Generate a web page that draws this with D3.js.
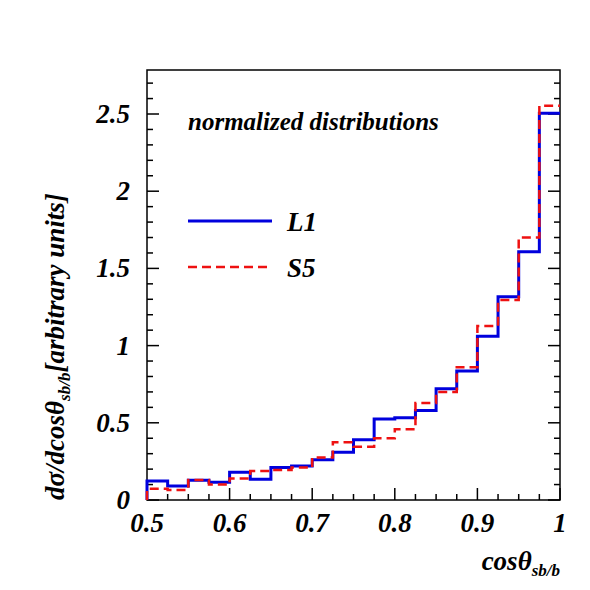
<!DOCTYPE html>
<html><head><meta charset="UTF-8">
<script src="https://d3js.org/d3.v7.min.js"></script>
<style>body{margin:0;background:#fff}text{font-family:'Liberation Serif','Times New Roman','DejaVu Serif',serif;font-style:italic;font-weight:bold}</style>
</head><body>
<script>
// bin edges 0.5..1.0, 20 bins
const binEdges = d3.range(21).map(i => 0.5 + i * 0.025);
const seriesL1 = [0.123,0.09,0.128,0.115,0.18,0.134,0.21,0.22,0.26,0.31,0.39,0.525,0.533,0.58,0.72,0.835,1.06,1.317,1.608,2.505];
const seriesS5 = [0.073,0.065,0.13,0.10,0.14,0.188,0.195,0.21,0.276,0.374,0.345,0.40,0.458,0.628,0.70,0.86,1.127,1.295,1.70,2.553];
const xTicks = [0.5,0.6,0.7,0.8,0.9,1];
const yTicks = [0,0.5,1,1.5,2,2.5];

const svg = d3.select("body").append("svg").attr("width",590).attr("height",590);
const x = d3.scaleLinear().domain([0.5,1]).range([147,560]);
const y = d3.scaleLinear().domain([0,2.785]).range([500,70]);

svg.append("rect").attr("x",147).attr("y",70).attr("width",413).attr("height",430)
   .attr("fill","none").attr("stroke","#000").attr("stroke-width",1.5);

const xMinor = d3.range(0.5,1.0001,0.025);
svg.selectAll(".xt").data(xMinor).enter().append("line")
   .attr("x1",d=>x(d)).attr("x2",d=>x(d)).attr("y1",500)
   .attr("y2",(d,i)=> i%4===0 ? 488 : 494).attr("stroke","#000").attr("stroke-width",1.5);
const yMinor = d3.range(0,2.78,0.1);
svg.selectAll(".yt").data(yMinor).enter().append("line")
   .attr("y1",d=>y(d)).attr("y2",d=>y(d))
   .attr("x1",(d,i)=> i%5===0 ? 548 : 554).attr("x2",560).attr("stroke","#000").attr("stroke-width",1.5);
svg.selectAll(".yt2").data(yMinor).enter().append("line")
   .attr("y1",d=>y(d)).attr("y2",d=>y(d))
   .attr("x1",147).attr("x2",(d,i)=> i%5===0 ? 159 : 153).attr("stroke","#000").attr("stroke-width",1.5);

svg.selectAll(".xl").data(xTicks).enter().append("text")
   .attr("x",d=>x(d)).attr("y",532).attr("text-anchor","middle").attr("font-size",27)
   .text(d=>d);
svg.selectAll(".yl").data(yTicks).enter().append("text")
   .attr("x",130).attr("y",d=>y(d)+9).attr("text-anchor","end").attr("font-size",27)
   .text(d=>d);

function step(vals){
  const pts=[[x(0.5),y(0)]];
  vals.forEach((v,i)=>{pts.push([x(binEdges[i]),y(v)]);pts.push([x(binEdges[i+1]),y(v)]);});
  return d3.line()(pts);
}
svg.append("path").attr("d",step(seriesL1)).attr("fill","none").attr("stroke","#0000dd").attr("stroke-width",3);
svg.append("path").attr("d",step(seriesS5)).attr("fill","none").attr("stroke","#ee1111").attr("stroke-width",2.5).attr("stroke-dasharray","9,5");

svg.append("text").attr("x",188).attr("y",130).attr("font-size",25).text("normalized distributions");
svg.append("line").attr("x1",188).attr("x2",272).attr("y1",221).attr("y2",221).attr("stroke","#0000dd").attr("stroke-width",3);
svg.append("text").attr("x",287).attr("y",231).attr("font-size",27).text("L1");
svg.append("line").attr("x1",188).attr("x2",272).attr("y1",267).attr("y2",267).attr("stroke","#ee1111").attr("stroke-width",2.5).attr("stroke-dasharray","9,5");
svg.append("text").attr("x",287).attr("y",277).attr("font-size",27).text("S5");

const xt = svg.append("text").attr("x",560).attr("y",570).attr("text-anchor","end").attr("font-size",27);
xt.append("tspan").text("cosθ");
xt.append("tspan").attr("font-size",17).attr("dy",6).text("sb/b");

const yt = svg.append("text").attr("transform","translate(64,500) rotate(-90)").attr("font-size",27);
yt.append("tspan").text("dσ/dcosθ");
yt.append("tspan").attr("font-size",17).attr("dy",6).text("sb/b");
yt.append("tspan").attr("dy",-6).text("[arbitrary units]");
</script>
</body></html>
